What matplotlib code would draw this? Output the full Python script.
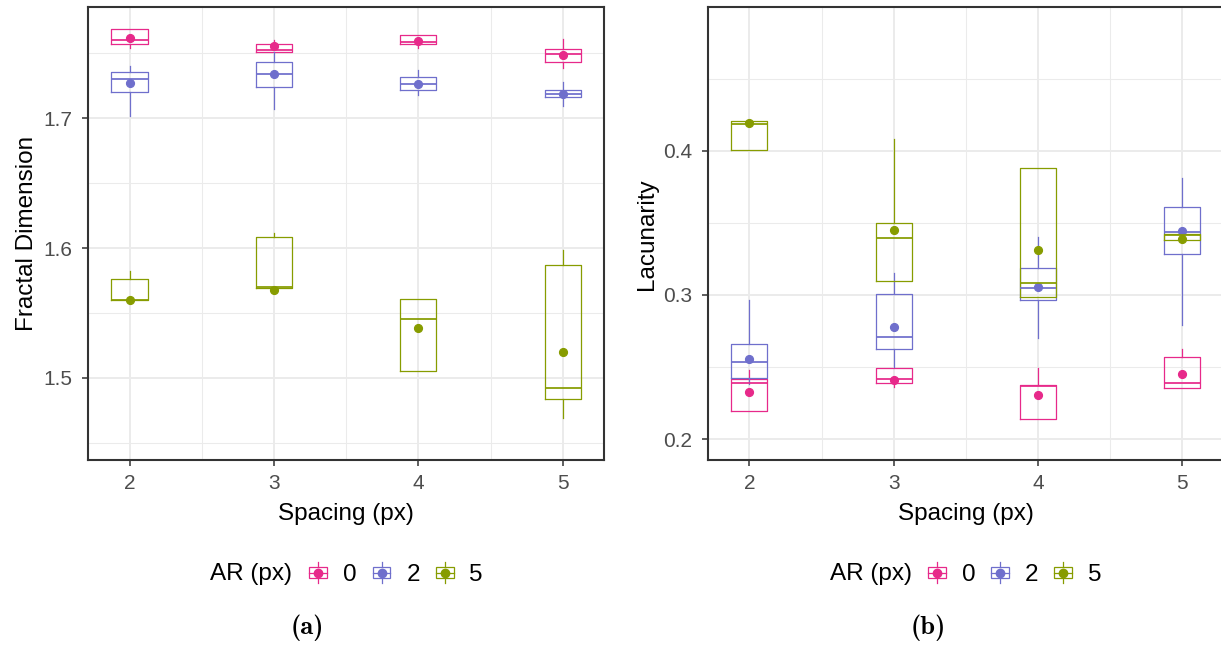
import matplotlib
matplotlib.use("Agg")
import os
import matplotlib.pyplot as plt
from matplotlib.font_manager import FontProperties
from matplotlib.legend_handler import HandlerBase
from matplotlib.lines import Line2D
from matplotlib.patches import Rectangle

plt.rcParams['font.family'] = ['Liberation Sans', 'DejaVu Sans']

spacing = [2, 3, 4, 5]
ar_levels = ['0', '2', '5']
colors = ['#E7298A', '#6F6FCC', '#879C00']

# fractal dimension, one row per AR level (0, 2, 5)
fd_q1 = [[1.7570, 1.7515, 1.7570, 1.7433],
         [1.7206, 1.7245, 1.7216, 1.7168],
         [1.5601, 1.5694, 1.5052, 1.4839]]
fd_med = [[1.7601, 1.7528, 1.7588, 1.7495],
          [1.7304, 1.7343, 1.7268, 1.7188],
          [1.5601, 1.5702, 1.5451, 1.4922]]
fd_q3 = [[1.7686, 1.7575, 1.7642, 1.7531],
         [1.7361, 1.7438, 1.7317, 1.7222],
         [1.5764, 1.6083, 1.5606, 1.5868]]
fd_lo = [[1.7546, 1.7515, 1.7544, 1.7392],
         [1.7015, 1.7072, 1.7183, 1.7095],
         [1.5601, 1.5694, 1.5052, 1.4689]]
fd_hi = [[1.7686, 1.7603, 1.7642, 1.7613],
         [1.7407, 1.7515, 1.7371, 1.7278],
         [1.5824, 1.6117, 1.5606, 1.5982]]
fd_mean = [[1.7616, 1.7557, 1.7595, 1.7492],
           [1.7271, 1.7340, 1.7265, 1.7188],
           [1.5601, 1.5681, 1.5386, 1.5202]]

# lacunarity
lac_q1 = [[0.2197, 0.2389, 0.2137, 0.2354],
          [0.2426, 0.2625, 0.2963, 0.3283],
          [0.4007, 0.3097, 0.2984, 0.3382]]
lac_med = [[0.2387, 0.2421, 0.2366, 0.2391],
           [0.2533, 0.2708, 0.3047, 0.3435],
           [0.4185, 0.3394, 0.3081, 0.3415]]
lac_q3 = [[0.2417, 0.2491, 0.2377, 0.2572],
          [0.2658, 0.3007, 0.3185, 0.3611],
          [0.4206, 0.3502, 0.3880, 0.3424]]
lac_lo = [[0.2197, 0.2363, 0.2137, 0.2354],
          [0.2385, 0.2502, 0.2703, 0.2792],
          [0.4007, 0.3097, 0.2984, 0.3382]]
lac_hi = [[0.2477, 0.2491, 0.2491, 0.2627],
          [0.2967, 0.3149, 0.3405, 0.3813],
          [0.4206, 0.4081, 0.3880, 0.3424]]
lac_mean = [[0.2324, 0.2410, 0.2308, 0.2449],
            [0.2558, 0.2776, 0.3058, 0.3444],
            [0.4194, 0.3447, 0.3315, 0.3387]]

W, H = 1221, 646
LW = 0.9


def draw_panel(ax, q1, med, q3, lo, hi, mean, ylim, major, minor, ylabel):
    for k in range(len(ar_levels)):
        c = colors[k]
        stats = []
        for i in range(len(spacing)):
            stats.append(dict(q1=q1[k][i], med=med[k][i], q3=q3[k][i],
                              whislo=lo[k][i], whishi=hi[k][i],
                              mean=mean[k][i], fliers=[]))
        ax.bxp(stats, positions=spacing, widths=0.25, showfliers=False,
               showcaps=False, showmeans=True, manage_ticks=False,
               boxprops=dict(color=c, lw=LW),
               whiskerprops=dict(color=c, lw=LW),
               medianprops=dict(color=c, lw=LW * 1.4),
               meanprops=dict(marker='o', markersize=5.6, markerfacecolor=c,
                              markeredgecolor=c))
    ax.set_xlim(1.7125, 5.2875)
    ax.set_ylim(*ylim)
    ax.set_xticks(spacing)
    ax.set_xticks([2.5, 3.5, 4.5], minor=True)
    ax.set_yticks(major)
    ax.set_yticks(minor, minor=True)
    ax.grid(which='major', color='#EBEBEB', lw=1.4)
    ax.grid(which='minor', color='#EBEBEB', lw=0.75)
    ax.set_axisbelow(True)
    ax.tick_params(which='major', length=4.3, width=1.1, color='#333333',
                   labelcolor='#4D4D4D', labelsize=15)
    ax.tick_params(axis='x', pad=5.5)
    ax.tick_params(axis='y', pad=7)
    ax.tick_params(which='minor', length=0)
    for s in ax.spines.values():
        s.set_color('#333333')
        s.set_linewidth(1.5)
    ax.set_xlabel('Spacing (px)', fontsize=17.5, labelpad=7)
    ax.set_ylabel(ylabel, fontsize=17.5, labelpad=4)


class BoxKey(HandlerBase):
    def create_artists(self, legend, orig_handle, xdescent, ydescent,
                       width, height, fontsize, trans):
        c = orig_handle.get_color()
        x0, y0 = -xdescent, -ydescent
        bh = height * 0.7
        by = y0 + (height - bh) / 2
        xm = x0 + width / 2
        rect = Rectangle((x0, by), width, bh, fill=False, edgecolor=c,
                         lw=LW, transform=trans)
        w1 = Line2D([xm, xm], [y0 - height * 0.1, by], color=c, lw=LW,
                    transform=trans)
        w2 = Line2D([xm, xm], [by + bh, y0 + height * 1.1], color=c, lw=LW,
                    transform=trans)
        md = Line2D([x0, x0 + width], [y0 + height / 2] * 2, color=c, lw=LW,
                    transform=trans)
        dot = Line2D([xm], [y0 + height / 2], marker='o', markersize=6,
                     color=c, transform=trans)
        return [rect, w1, w2, md, dot]


cm_bold = os.path.join(matplotlib.get_data_path(), 'fonts', 'ttf', 'cmb10.ttf')
cap_font = FontProperties(fname=cm_bold, size=19)

fig = plt.figure(figsize=(W / 100, H / 100), dpi=100)
ax1 = fig.add_axes([88 / W, 1 - 460.3 / H, 516.3 / W, 453 / H])
ax2 = fig.add_axes([708 / W, 1 - 460.3 / H, 515.5 / W, 453 / H])

draw_panel(ax1, fd_q1, fd_med, fd_q3, fd_lo, fd_hi, fd_mean,
           (1.4365, 1.7856), [1.5, 1.6, 1.7], [1.45, 1.55, 1.65, 1.75],
           'Fractal Dimension')
draw_panel(ax2, lac_q1, lac_med, lac_q3, lac_lo, lac_hi, lac_mean,
           (0.1854, 0.4994), [0.2, 0.3, 0.4], [0.25, 0.35, 0.45],
           'Lacunarity')

handles = [Line2D([], [], color=c) for c in colors]
for key_x, title_x, cap_x, cap in [(309.3, 291.7, 307.5, '(a)'),
                                   (928.0, 911.7, 928.0, '(b)')]:
    fig.text(title_x / W, 1 - 574 / H, 'AR (px)', ha='right', va='center',
             fontsize=17.5)
    fig.legend(handles, ar_levels, handler_map={Line2D: BoxKey()},
               loc='center left', bbox_to_anchor=(key_x / W, 1 - 575 / H),
               ncol=3, frameon=False, fontsize=17.5, borderpad=0,
               borderaxespad=0, handlelength=0.74, handleheight=0.7,
               handletextpad=0.65, columnspacing=0.65)
    fig.text(cap_x / W, 1 - 628 / H, cap, ha='center', va='center',
             fontproperties=cap_font)

fig.savefig('out.png', dpi=100)
